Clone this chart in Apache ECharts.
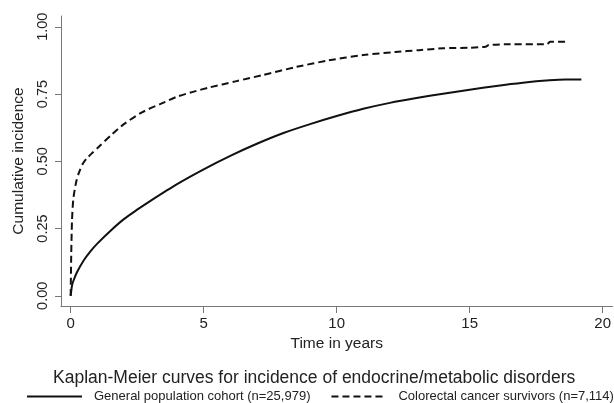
<!DOCTYPE html>
<html>
<head>
<meta charset="utf-8">
<script src="https://cdn.jsdelivr.net/npm/echarts@6/dist/echarts.min.js"></script>
<style>
  html, body { margin: 0; padding: 0; background: #fff; }
  #main { width: 614px; height: 403px; }
</style>
</head>
<body>
<div id="main"></div>
<script>
// 数据：从图上读出来的 Kaplan-Meier 曲线
var xTicks = [0, 5, 10, 15, 20];
var yTicks = [0, 0.25, 0.5, 0.75, 1];

// 一般人群
var genTime = [0, 0.05, 0.1, 0.25, 0.5, 0.75, 1, 1.5, 2, 2.5, 3, 4, 5, 6, 7, 8, 9, 10, 11, 12, 13, 14, 15, 16, 17, 18, 18.6, 19.2];
var genInc  = [0, 0.038, 0.055, 0.09, 0.133, 0.166, 0.194, 0.242, 0.285, 0.32, 0.353, 0.415, 0.47, 0.52, 0.565, 0.605, 0.638, 0.668, 0.695, 0.717, 0.735, 0.751, 0.766, 0.78, 0.792, 0.801, 0.804, 0.804];

// 结直肠癌幸存者
var crcTime = [0, 0.02, 0.05, 0.1, 0.2, 0.3, 0.45, 0.6, 0.8, 1.1, 1.5, 2, 2.7, 3.4, 4, 4.6, 5.2, 6.2, 7.2, 8.5, 9.7, 11, 12.2, 13.1, 14, 15, 15.6, 15.72, 16.5, 17.9, 18.03, 18.66];
var crcInc  = [0, 0.15, 0.28, 0.36, 0.42, 0.455, 0.49, 0.51, 0.53, 0.558, 0.595, 0.638, 0.683, 0.714, 0.74, 0.758, 0.774, 0.797, 0.82, 0.851, 0.875, 0.895, 0.906, 0.913, 0.92, 0.922, 0.926, 0.932, 0.935, 0.935, 0.944, 0.944];

function pairs(xs, ys) {
  var out = [];
  for (var i = 0; i < xs.length; i++) {
    out.push([xs[i], ys[i]]);
  }
  return out;
}

var myChart = echarts.init(document.getElementById('main'));
var textColor = '#222';
var axisColor = '#777';
var font = 'Liberation Sans, Arial, sans-serif';

myChart.setOption({
  animation: false,
  backgroundColor: '#fff',
  title: {
    text: 'Kaplan-Meier curves for incidence of endocrine/metabolic disorders',
    left: 48,
    top: 364,
    textStyle: { fontFamily: font, fontSize: 17.5, fontWeight: 'normal', color: textColor }
  },
  legend: {
    top: 390,
    left: 26,
    width: 640,
    padding: 0,
    itemWidth: 55,
    itemHeight: 10,
    itemGap: 20,
    itemStyle: { opacity: 0 },
    textStyle: { fontFamily: font, fontSize: 13, color: textColor, padding: [0, 0, 0, 7] },
    data: ['General population cohort (n=25,979)', 'Colorectal cancer survivors (n=7,114)']
  },
  grid: { left: 61, right: 0, top: 16, bottom: 97 },
  xAxis: {
    type: 'value',
    min: -0.364,
    max: 20.37,
    name: 'Time in years',
    nameLocation: 'middle',
    nameGap: 27,
    nameTextStyle: { fontFamily: font, fontSize: 15.5, color: textColor },
    axisLine: { show: true, onZero: false, lineStyle: { color: axisColor, width: 1 } },
    axisTick: { show: true, length: 7, lineStyle: { color: axisColor }, customValues: xTicks },
    axisLabel: { fontFamily: font, fontSize: 15, color: textColor, margin: 10, customValues: xTicks },
    splitLine: { show: false }
  },
  yAxis: {
    type: 'value',
    min: -0.038,
    max: 1.04,
    name: 'Cumulative incidence',
    nameLocation: 'middle',
    nameGap: 33,
    nameTextStyle: { fontFamily: font, fontSize: 15.5, color: textColor },
    axisLine: { show: true, onZero: false, lineStyle: { color: axisColor, width: 1 } },
    axisTick: { show: true, length: 6, lineStyle: { color: axisColor }, customValues: yTicks },
    axisLabel: {
      fontFamily: font, fontSize: 14.5, color: textColor, rotate: 90, margin: 11,
      customValues: yTicks,
      formatter: function (v) { return v.toFixed(2); }
    },
    splitLine: { show: false }
  },
  series: [{
    name: 'General population cohort (n=25,979)',
    type: 'line',
    symbol: 'none',
    smooth: 0.25,
    data: pairs(genTime, genInc),
    lineStyle: { color: '#111', width: 2, type: 'solid' },
    itemStyle: { color: '#111' }
  }, {
    name: 'Colorectal cancer survivors (n=7,114)',
    type: 'line',
    symbol: 'none',
    smooth: 0.25,
    data: pairs(crcTime, crcInc),
    lineStyle: { color: '#111', width: 2, type: [7, 4] },
    itemStyle: { color: '#111' }
  }]
});
</script>
</body>
</html>
